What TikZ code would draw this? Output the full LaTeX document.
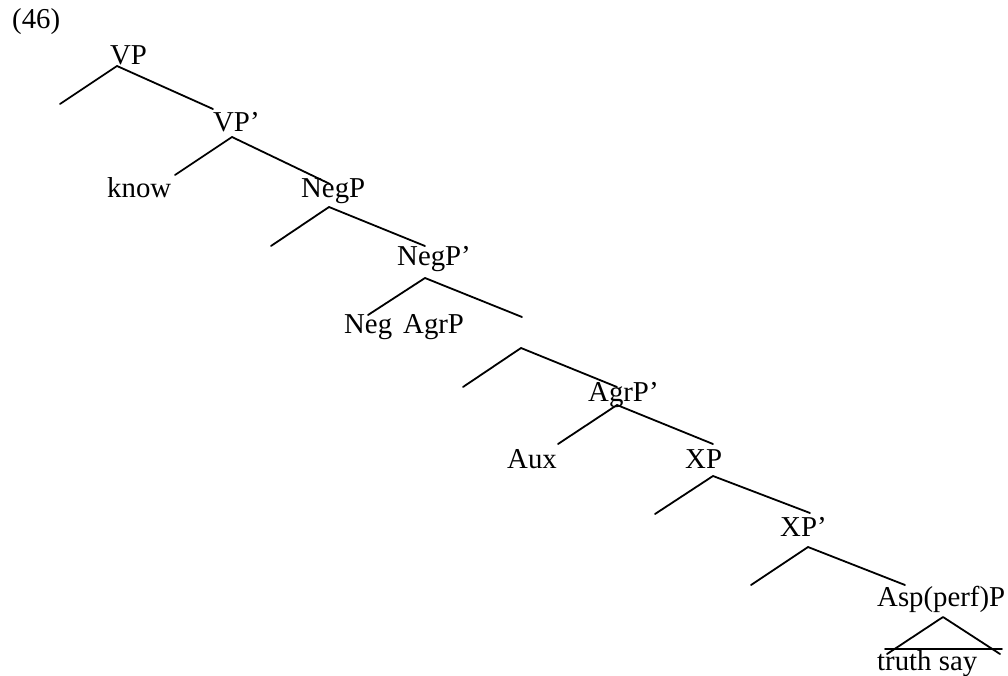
\documentclass[tikz,border=0pt]{standalone}
\usepackage{fontspec}
\setmainfont{Liberation Serif}
\begin{document}
\begin{tikzpicture}[x=1pt,y=-1pt,
  lbl/.style={anchor=base west,inner sep=0pt,font=\fontsize{28.8}{34}\selectfont},
  br/.style={line width=1.8pt,line cap=round,line join=round}]
\useasboundingbox (0,0) rectangle (1008,676);
% labels
\node[lbl] (n46) at (12,29) {(46)};
\node[lbl] (vp) at (110,65) {VP};
\node[lbl] (vp1) at (213,132) {VP’};
\node[lbl] (know) at (107,198) {know};
\node[lbl] (negp) at (301,198) {NegP};
\node[lbl] (negp1) at (397,265) {NegP’};
\node[lbl] (neg) at (344,333) {Neg};
\node[lbl] (agrp) at (403,333) {AgrP};
\node[lbl] (agrp1) at (588,401) {AgrP’};
\node[lbl] (aux) at (507,468) {Aux};
\node[lbl] (xp) at (685,468) {XP};
\node[lbl] (xp1) at (780,536) {XP’};
\node[lbl] (asp) at (877,606) {Asp(perf)P};
\node[lbl] (truth) at (877,670) {truth say};
% branch points
\coordinate (a1) at (117,66);  \coordinate (l1) at (60,104);  \coordinate (r1) at (213,109);
\coordinate (a2) at (232,137); \coordinate (l2) at (175,175); \coordinate (r2) at (330,184);
\coordinate (a3) at (329,207); \coordinate (l3) at (271,246); \coordinate (r3) at (425,246);
\coordinate (a4) at (425,278); \coordinate (l4) at (368,315); \coordinate (r4) at (522,317);
\coordinate (a5) at (521,348); \coordinate (l5) at (463,387); \coordinate (r5) at (617,387);
\coordinate (a6) at (617,405); \coordinate (l6) at (558,444); \coordinate (r6) at (713,444);
\coordinate (a7) at (713,476); \coordinate (l7) at (655,514); \coordinate (r7) at (810,513);
\coordinate (a8) at (808,547); \coordinate (l8) at (751,585); \coordinate (r8) at (905,585);
\coordinate (a9) at (943,617); \coordinate (l9) at (887,654); \coordinate (r9) at (1000,654);
\coordinate (b1) at (885,649); \coordinate (b2) at (1002,649);
% branches
\foreach \i in {1,...,9} {\draw[br] (l\i) -- (a\i) -- (r\i);}
\draw[br] (b1) -- (b2);
\end{tikzpicture}
\end{document}
